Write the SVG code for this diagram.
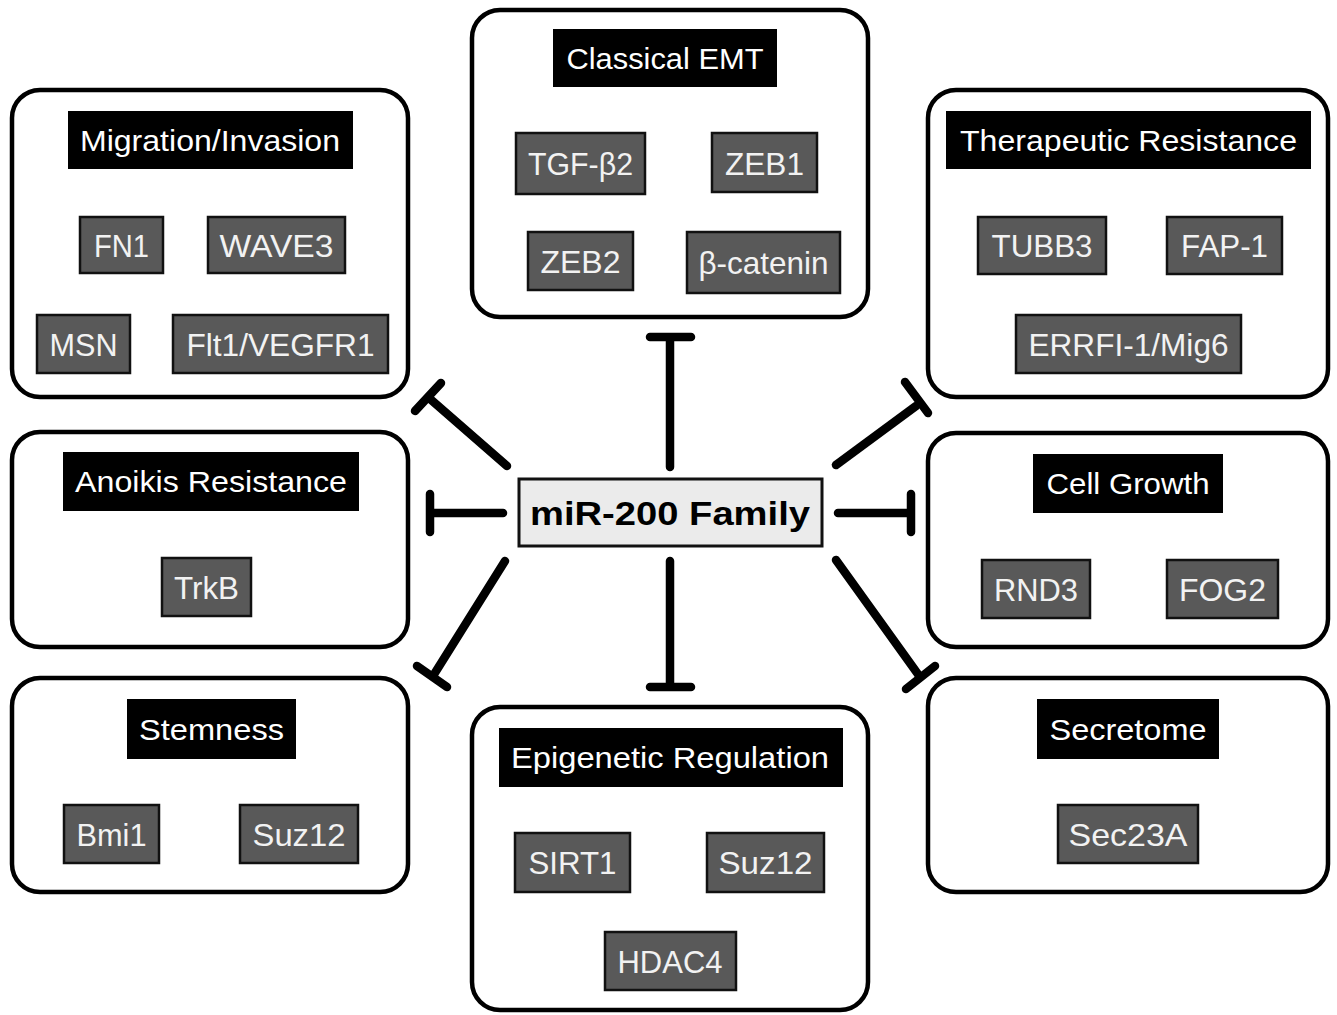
<svg xmlns="http://www.w3.org/2000/svg" width="1337" height="1015" viewBox="0 0 1337 1015">
<style>
.box{fill:#fff;stroke:#000;stroke-width:4.5}
.title{fill:#000}
.gene{fill:#595959;stroke:#111;stroke-width:2.5}
.tt{font-family:"Liberation Sans",Arial,sans-serif;font-size:30px;fill:#fff;text-anchor:middle}
.gt{font-family:"Liberation Sans",Arial,sans-serif;font-size:32px;fill:#f2f2f2;text-anchor:middle}
.ct{font-family:"Liberation Sans",Arial,sans-serif;font-size:34px;font-weight:bold;fill:#000;text-anchor:middle}
.conn line{stroke:#000;stroke-width:8.5;stroke-linecap:round}
</style>
<rect width="1337" height="1015" fill="#fff"/>

<g id="migration">
<rect class="box" x="12" y="90" width="396" height="307" rx="28"/>
<rect class="title" x="68" y="111" width="285" height="58"/>
<text class="tt" x="210" y="151" textLength="260" lengthAdjust="spacingAndGlyphs">Migration/Invasion</text>
<rect class="gene" x="80" y="217" width="83" height="56"/>
<text class="gt" x="121.5" y="257" textLength="55" lengthAdjust="spacingAndGlyphs">FN1</text>
<rect class="gene" x="208" y="217" width="137" height="56"/>
<text class="gt" x="276.5" y="257" textLength="114" lengthAdjust="spacingAndGlyphs">WAVE3</text>
<rect class="gene" x="37" y="315" width="93" height="58"/>
<text class="gt" x="83.5" y="356" textLength="68" lengthAdjust="spacingAndGlyphs">MSN</text>
<rect class="gene" x="173" y="315" width="215" height="58"/>
<text class="gt" x="280.5" y="356" textLength="188" lengthAdjust="spacingAndGlyphs">Flt1/VEGFR1</text>
</g>

<g id="classical-emt">
<rect class="box" x="472" y="10" width="396" height="307" rx="28"/>
<rect class="title" x="553" y="29" width="224" height="58"/>
<text class="tt" x="665" y="69" textLength="197" lengthAdjust="spacingAndGlyphs">Classical EMT</text>
<rect class="gene" x="516" y="133" width="129" height="61"/>
<text class="gt" x="580.5" y="175" textLength="105" lengthAdjust="spacingAndGlyphs">TGF-β2</text>
<rect class="gene" x="712" y="133" width="105" height="59"/>
<text class="gt" x="764.5" y="175" textLength="79" lengthAdjust="spacingAndGlyphs">ZEB1</text>
<rect class="gene" x="528" y="232" width="105" height="58"/>
<text class="gt" x="580.5" y="273" textLength="80" lengthAdjust="spacingAndGlyphs">ZEB2</text>
<rect class="gene" x="687" y="232" width="153" height="61"/>
<text class="gt" x="763.5" y="274" textLength="130" lengthAdjust="spacingAndGlyphs">β-catenin</text>
</g>

<g id="therapeutic-resistance">
<rect class="box" x="928" y="90" width="400" height="307" rx="28"/>
<rect class="title" x="946" y="111" width="365" height="58"/>
<text class="tt" x="1128.5" y="151" textLength="337" lengthAdjust="spacingAndGlyphs">Therapeutic Resistance</text>
<rect class="gene" x="978" y="217" width="128" height="57"/>
<text class="gt" x="1042" y="257" textLength="101" lengthAdjust="spacingAndGlyphs">TUBB3</text>
<rect class="gene" x="1167" y="217" width="115" height="57"/>
<text class="gt" x="1224.5" y="257" textLength="87" lengthAdjust="spacingAndGlyphs">FAP-1</text>
<rect class="gene" x="1016" y="315" width="225" height="58"/>
<text class="gt" x="1128.5" y="356" textLength="200" lengthAdjust="spacingAndGlyphs">ERRFI-1/Mig6</text>
</g>

<g id="anoikis-resistance">
<rect class="box" x="12" y="432" width="396" height="215" rx="28"/>
<rect class="title" x="63" y="452" width="296" height="59"/>
<text class="tt" x="211" y="492" textLength="272" lengthAdjust="spacingAndGlyphs">Anoikis Resistance</text>
<rect class="gene" x="162" y="558" width="89" height="58"/>
<text class="gt" x="206.5" y="599" textLength="65" lengthAdjust="spacingAndGlyphs">TrkB</text>
</g>

<g id="cell-growth">
<rect class="box" x="928" y="433" width="400" height="214" rx="28"/>
<rect class="title" x="1033" y="454" width="190" height="59"/>
<text class="tt" x="1128" y="494" textLength="163" lengthAdjust="spacingAndGlyphs">Cell Growth</text>
<rect class="gene" x="982" y="560" width="108" height="58"/>
<text class="gt" x="1036" y="601" textLength="84" lengthAdjust="spacingAndGlyphs">RND3</text>
<rect class="gene" x="1167" y="560" width="111" height="58"/>
<text class="gt" x="1222.5" y="601" textLength="87" lengthAdjust="spacingAndGlyphs">FOG2</text>
</g>

<g id="stemness">
<rect class="box" x="12" y="678" width="396" height="214" rx="28"/>
<rect class="title" x="127" y="699" width="169" height="60"/>
<text class="tt" x="211.5" y="740" textLength="145" lengthAdjust="spacingAndGlyphs">Stemness</text>
<rect class="gene" x="64" y="805" width="95" height="58"/>
<text class="gt" x="111.5" y="846" textLength="70" lengthAdjust="spacingAndGlyphs">Bmi1</text>
<rect class="gene" x="240" y="805" width="118" height="58"/>
<text class="gt" x="299" y="846" textLength="93" lengthAdjust="spacingAndGlyphs">Suz12</text>
</g>

<g id="secretome">
<rect class="box" x="928" y="678" width="400" height="214" rx="28"/>
<rect class="title" x="1037" y="699" width="182" height="60"/>
<text class="tt" x="1128" y="740" textLength="157" lengthAdjust="spacingAndGlyphs">Secretome</text>
<rect class="gene" x="1058" y="805" width="140" height="58"/>
<text class="gt" x="1128" y="846" textLength="119" lengthAdjust="spacingAndGlyphs">Sec23A</text>
</g>

<g id="epigenetic-regulation">
<rect class="box" x="472" y="707" width="396" height="303" rx="28"/>
<rect class="title" x="499" y="728" width="344" height="59"/>
<text class="tt" x="670" y="768" textLength="318" lengthAdjust="spacingAndGlyphs">Epigenetic Regulation</text>
<rect class="gene" x="515" y="833" width="115" height="59"/>
<text class="gt" x="572.5" y="874" textLength="88" lengthAdjust="spacingAndGlyphs">SIRT1</text>
<rect class="gene" x="707" y="833" width="117" height="59"/>
<text class="gt" x="765.5" y="874" textLength="94" lengthAdjust="spacingAndGlyphs">Suz12</text>
<rect class="gene" x="605" y="932" width="131" height="58"/>
<text class="gt" x="670" y="973" textLength="105" lengthAdjust="spacingAndGlyphs">HDAC4</text>
</g>

<g id="mir200">
<rect x="519" y="479" width="303" height="67" fill="#ebebeb" stroke="#111" stroke-width="3"/>
<text class="ct" x="670" y="525" textLength="280" lengthAdjust="spacingAndGlyphs">miR-200 Family</text>
</g>

<g id="connectors" class="conn">
<line x1="670" y1="467" x2="670" y2="338"/><line x1="650" y1="337" x2="691" y2="337"/>
<line x1="670" y1="561" x2="670" y2="686"/><line x1="650" y1="687" x2="691" y2="687"/>
<line x1="503" y1="513" x2="432" y2="513"/><line x1="430" y1="494" x2="430" y2="532"/>
<line x1="838" y1="513" x2="910" y2="513"/><line x1="911" y1="494" x2="911" y2="532"/>
<line x1="507" y1="466" x2="429" y2="398"/><line x1="415" y1="411" x2="441" y2="383"/>
<line x1="836" y1="465" x2="916" y2="406"/><line x1="905" y1="382" x2="928" y2="413"/>
<line x1="505" y1="561" x2="433" y2="676"/><line x1="417" y1="666" x2="447" y2="687"/>
<line x1="836" y1="560" x2="920" y2="677"/><line x1="906" y1="689" x2="935" y2="666"/>
</g>
</svg>
